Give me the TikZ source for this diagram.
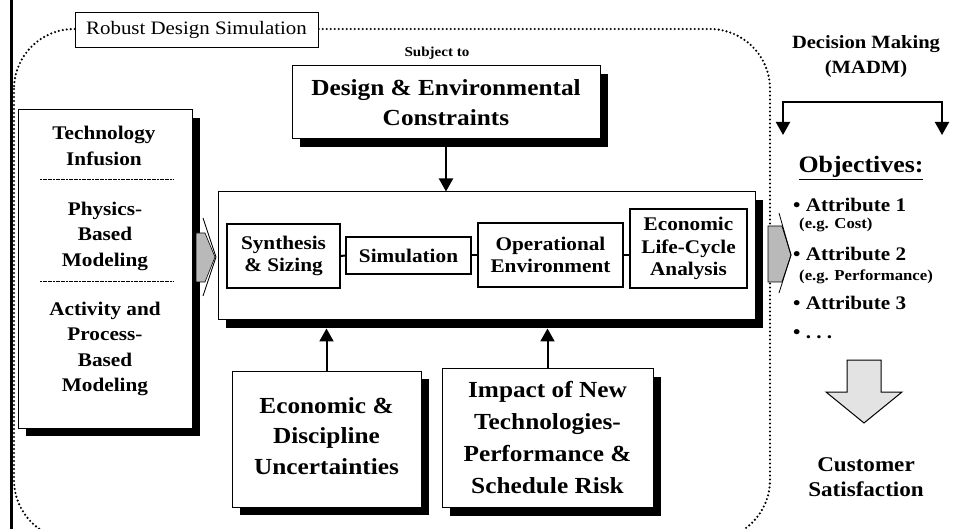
\documentclass[tikz,border=0pt]{standalone}
\usepackage{fontspec}
\setmainfont[FakeStretch=1.1]{Liberation Serif}
\usetikzlibrary{shadows,arrows.meta,calc}
\newcommand\fbig{\fontsize{23}{30.5}\selectfont\bfseries}
\newcommand\fmed{\fontsize{19.3}{25.5}\selectfont\bfseries}
\newcommand\finn{\fontsize{19.3}{22.5}\selectfont\bfseries}
\newcommand\fsml{\fontsize{15.2}{18}\selectfont\bfseries}
\begin{document}
\begin{tikzpicture}[x=1pt,y=-1pt,
  box/.style={draw, line width=1pt, fill=white, inner sep=0pt, align=center},
  shbox/.style={box, general shadow={fill=black, shadow xshift=8pt, shadow yshift=-8pt}},
  inbox/.style={draw, line width=1.3pt, fill=white, inner sep=0pt, align=center, font=\finn},
  arr/.style={line width=2pt, -{Triangle[width=14pt,length=13pt]}},
  dotline/.style={line width=2.4pt, dash pattern=on 0pt off 4pt, line cap=round},
  divider/.style={line width=0.8pt, dash pattern=on 2pt off 0.6pt},
  txt/.style={inner sep=0pt, align=center}]
\useasboundingbox (0,0) rectangle (956,529);

% left rule
\draw[line width=3pt] (11.5,0) -- (11.5,529);
% dotted rounded boundary
\draw[dotline, rounded corners=60pt] (14,29) rectangle (770,540);
\node[draw, line width=0.7pt, fill=white, minimum width=243pt, minimum height=35pt, inner sep=0pt,
      font=\fontsize{19}{22}\selectfont] (rds) at (196.5,29.5) {Robust Design Simulation};

% left box
\node[shbox, minimum width=174pt, minimum height=318pt] (lb) at (105,269) {};
\node[txt, font=\fmed] (t1) at (104,146) {Technology\\Infusion};
\node[txt, font=\fmed] (t2) at (105,236) {Physics-\\Based\\Modeling};
\node[txt, font=\fmed] (t3) at (105,349) {Activity and\\Process-\\Based\\Modeling};
\draw[divider] (40,179) -- (173,179);
\draw[divider] (40,281) -- (173,281);

% constraints
\node[txt, font=\fontsize{13.7}{16}\selectfont\bfseries] (subj) at (437,53) {Subject to};
\node[shbox, minimum width=308pt, minimum height=73pt, font=\fbig] (con) at (446,102.5)
  {Design \& Environmental\\Constraints};

% main box
\node[shbox, minimum width=537pt, minimum height=128pt] (main) at (486.5,256) {};
\node[inbox, minimum width=113pt, minimum height=64pt] (syn) at (283.5,256) {Synthesis\\\& Sizing};
\node[inbox, minimum width=125pt, minimum height=37pt] (sim) at (408.5,255.5) {Simulation};
\node[inbox, minimum width=145pt, minimum height=64pt] (ope) at (550.5,255) {Operational\\Environment};
\node[inbox, minimum width=117pt, minimum height=79pt] (eco) at (688.5,248.5) {Economic\\Life-Cycle\\Analysis};
\draw[line width=2pt] (syn.east) -- (sim.west);
\draw[line width=2pt] (sim.east) -- (sim.east -| ope.west);
\draw[line width=2pt] (ope.east) -- (ope.east -| eco.west);

\draw[arr] (con.south) -- (con.south |- main.north);

% bottom boxes
\node[shbox, minimum width=189pt, minimum height=136pt] (eu) at (326.5,439) {};
\node[txt, font=\fbig] (eut) at (326.5,436) {Economic \&\\Discipline\\Uncertainties};
\node[shbox, minimum width=211pt, minimum height=139pt, font=\fontsize{23}{32}\selectfont\bfseries] (imp) at (547.5,438)
  {Impact of New\\Technologies-\\Performance \&\\Schedule Risk};
\draw[arr, shorten >=8pt] (eu.north) -- (eu.north |- main.south);
\draw[arr, shorten >=8pt] (imp.north) -- (imp.north |- main.south);

% block arrows
\filldraw[fill=gray!55, draw=black, line width=0.6pt] (196,233) -- (205,233) -- (215,257) -- (205,282) -- (196,282) -- cycle;
\draw[line width=0.8pt] (203,218) -- (216,257) -- (203,296);
\filldraw[fill=gray!55, draw=black, line width=0.8pt] (768,226) -- (782,226) -- (791,255) -- (782,282) -- (768,282) -- cycle;
\draw[line width=0.8pt] (779,213) -- (791,255) -- (779,293);

% right column
\node[txt, font=\fontsize{18.7}{25}\selectfont\bfseries] (dm) at (866,57) {Decision Making\\(MADM)};
\coordinate (bl) at (783,135);
\coordinate (b1) at (783,102);
\coordinate (b2) at (942,102);
\coordinate (br) at (942,135);
\draw[line width=2pt, {Triangle[width=14pt,length=13pt]}-{Triangle[width=14pt,length=13pt]}] (bl) -- (b1) -- (b2) -- (br);

\node[txt, anchor=base, font=\fontsize{23.5}{26}\selectfont\bfseries] (obj) at (861,173) {\underline{Objectives:}};
\node[txt, anchor=base west, font=\fontsize{19.2}{22}\selectfont\bfseries] (a1) at (793,212) {\textbullet\ Attribute 1};
\node[txt, anchor=base west, font=\fsml] (e1) at (799,229) {(e.g. Cost)};
\node[txt, anchor=base west, font=\fontsize{19.2}{22}\selectfont\bfseries] (a2) at (793,261) {\textbullet\ Attribute 2};
\node[txt, anchor=base west, font=\fsml] (e2) at (799,281) {(e.g. Performance)};
\node[txt, anchor=base west, font=\fontsize{19.2}{22}\selectfont\bfseries] (a3) at (793,310) {\textbullet\ Attribute 3};
\node[txt, anchor=base west, font=\fontsize{19.2}{22}\selectfont\bfseries] (a4) at (793,339) {\textbullet\ .\ .\ .};

\filldraw[fill=gray!22, draw=black, line width=1pt] (847,360) -- (881,360) -- (881,392) -- (902,392) -- (864,423) -- (826,392) -- (847,392) -- cycle;
\node[txt, font=\fontsize{21}{25}\selectfont\bfseries] (cs) at (866,477) {Customer\\Satisfaction};
\end{tikzpicture}
\end{document}
